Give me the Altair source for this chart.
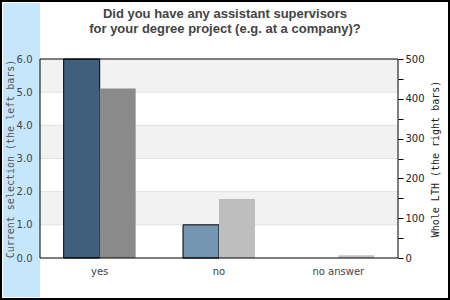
import altair as alt
import pandas as pd

title_lines = ["Did you have any assistant supervisors", "for your degree project (e.g. at a company)?"]
categories = ["yes", "no", "no answer"]
current_selection = [6, 1, 0]
whole_lth = [426, 148, 7]
left_colors = ["#3F5F7C", "#7596B0", "#7596B0"]
right_colors = ["#8A8A8A", "#BEBEBE", "#C2C2C2"]

band_lo = [1, 3, 5]
band_hi = [2, 4, 6]
grid_vals = [1, 2, 3, 4, 5]
left_ticks = [0, 1, 2, 3, 4, 5, 6]
right_ticks = [0, 50, 100, 150, 200, 250, 300, 350, 400, 450, 500]

W, H = 358, 199

df = pd.DataFrame({"cat": categories, "cur": current_selection, "whole": whole_lth})
bands = pd.DataFrame({"lo": band_lo, "hi": band_hi})
grid = pd.DataFrame({"g": grid_vals})
one = pd.DataFrame({"a": [0]})

left_scale = alt.Scale(domain=[0, 6], nice=False, zero=True)
right_scale = alt.Scale(domain=[0, 500], nice=False, zero=True)
x_enc = alt.X("cat:N", sort=categories,
              scale=alt.Scale(paddingInner=0, paddingOuter=0),
              axis=alt.Axis(title=None, labelAngle=0, ticks=False, domain=False,
                            labelFont="DejaVu Sans", labelFontSize=10,
                            labelColor="#444444", labelPadding=8, zindex=1))

left_axis = alt.Axis(orient="left", title="Current selection (the left bars)",
                     values=left_ticks, format=".1f", ticks=False, domain=False,
                     grid=False, labelFont="DejaVu Sans", labelFontSize=10,
                     labelColor="#444444", labelPadding=8,
                     titleFont="DejaVu Sans Mono", titleFontSize=10,
                     titleFontWeight="normal", titleColor="#555555",
                     titleAngle=270, titleX=-30, titleY=H / 2,
                     titleAlign="center", titleBaseline="middle", zindex=1)

panel = alt.Chart(one).mark_rect(color="#C6E6FC").encode(
    x=alt.value(-37), x2=alt.value(0), y=alt.value(-56), y2=alt.value(238))

title_text = alt.Chart(one).mark_text(
    text=title_lines, font="Liberation Sans", fontSize=13, fontWeight="bold",
    color="#444444", lineHeight=15, baseline="alphabetic", align="center",
).encode(x=alt.value(185), y=alt.value(-41))

band_layer = alt.Chart(bands).mark_rect(color="#F2F2F2").encode(
    y=alt.Y("lo:Q", scale=left_scale, axis=left_axis), y2="hi:Q")

grid_layer = alt.Chart(grid).mark_rule(color="#E0E0E0", strokeWidth=1).encode(
    y=alt.Y("g:Q", scale=left_scale, axis=left_axis))

left_bars = alt.Chart(df).mark_bar(width=36, xOffset=-18, stroke="black", strokeWidth=1).encode(
    x=x_enc,
    y=alt.Y("cur:Q", scale=left_scale, axis=left_axis),
    color=alt.Color("cat:N", scale=alt.Scale(domain=categories, range=left_colors), legend=None),
    strokeOpacity=alt.condition(alt.datum.cur > 0, alt.value(1), alt.value(0)),
)

right_bars = alt.Chart(df).mark_bar(width=36, xOffset=18).encode(
    x=alt.X("cat:N", sort=categories),
    y=alt.Y("whole:Q", scale=right_scale,
            axis=alt.Axis(orient="right", title="Whole LTH (the right bars)",
                          values=right_ticks,
                          labelExpr="datum.value % 100 == 0 ? datum.label : ''",
                          ticks=True, tickSize=5, tickColor="black", domain=False,
                          grid=False, labelFont="DejaVu Sans", labelFontSize=10,
                          labelColor="#222222", labelPadding=2,
                          titleFont="DejaVu Sans Mono", titleFontSize=10,
                          titleFontWeight="normal", titleColor="#222222",
                          titleAngle=270, titleX=37, titleY=H / 2,
                          titleAlign="center", titleBaseline="middle", zindex=1)),
    fill=alt.Fill("cat:N", scale=alt.Scale(domain=categories, range=right_colors), legend=None),
)

frame = alt.Chart(one).mark_rect(fill=None, stroke="black", strokeWidth=1).encode(
    x=alt.value(0), x2=alt.value(W), y=alt.value(0), y2=alt.value(H))

border = alt.Chart(one).mark_rect(fill=None, stroke="black", strokeWidth=2).encode(
    x=alt.value(-39), x2=alt.value(409), y=alt.value(-58), y2=alt.value(240))

left_group = alt.layer(band_layer, grid_layer, left_bars)

chart = alt.layer(panel, title_text, left_group, right_bars, frame, border).resolve_scale(
    y="independent", color="independent", fill="independent"
).properties(
    width=W, height=H,
    padding={"left": 40, "top": 59, "right": 52, "bottom": 42},
    autosize=alt.AutoSizeParams(type="none"),
    background="white",
).configure_view(stroke=None)

chart.save("out.html", embed_options={"renderer": "svg", "actions": False})
